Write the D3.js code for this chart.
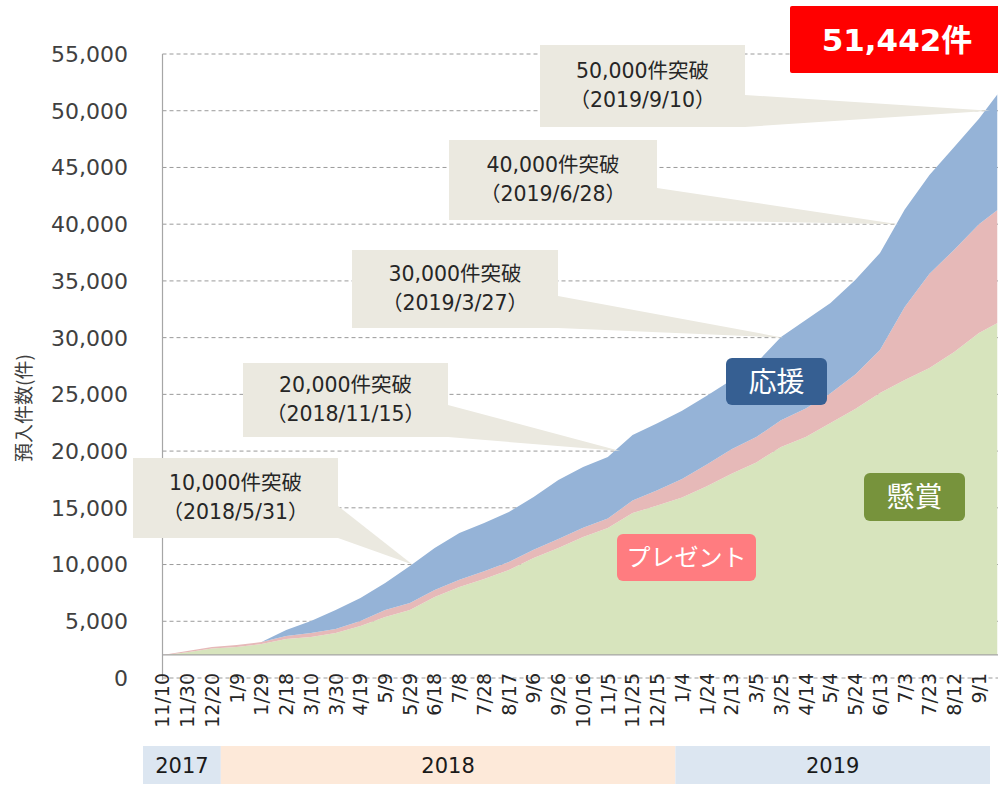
<!DOCTYPE html>
<html>
<head>
<meta charset="utf-8">
<script src="https://cdn.jsdelivr.net/npm/d3@7"></script>
<style>
  body { margin: 0; background: #fff; }
  svg { display: block; font-family: "DejaVu Sans", "Noto Sans CJK JP", sans-serif; }
</style>
</head>
<body>
<svg id="grafico" width="998" height="785"></svg>
<script>
// dados (acumulado por tipo)
const datas = [
  "2017-11-10","2017-11-30","2017-12-20","2018-01-09","2018-01-29","2018-02-18",
  "2018-03-10","2018-03-30","2018-04-19","2018-05-09","2018-05-29","2018-06-18",
  "2018-07-08","2018-07-28","2018-08-17","2018-09-06","2018-09-26","2018-10-16",
  "2018-11-05","2018-11-25","2018-12-15","2019-01-04","2019-01-24","2019-02-13",
  "2019-03-05","2019-03-25","2019-04-14","2019-05-04","2019-05-24","2019-06-13",
  "2019-07-03","2019-07-23","2019-08-12","2019-09-01","2019-09-16"
];
const kensho  = [2000,2280,2600,2740,2990,3440,3610,3960,4580,5380,5990,7140,
                 8020,8730,9520,10580,11460,12430,13220,14540,15200,15900,16900,18000,
                 19000,20360,21240,22480,23700,25120,26270,27320,28730,30400,31290];
const present = [30,100,130,160,180,260,360,360,440,610,620,620,
                 640,670,710,720,790,820,840,1100,1350,1650,1920,2170,
                 2240,2350,2510,2620,3050,3790,6430,8310,9020,9600,9960];
const ouen    = [0,0,0,0,0,530,1050,1670,2030,2380,3260,3700,
                 4120,4260,4400,4650,5200,5350,5420,5780,5900,6000,6050,6100,
                 6520,7350,7800,7950,8330,8550,8600,8700,9050,9300,10192];

const tickDatas = [
  "2017-11-10","2017-11-30","2017-12-20","2018-01-09","2018-01-29","2018-02-18",
  "2018-03-10","2018-03-30","2018-04-19","2018-05-09","2018-05-29","2018-06-18",
  "2018-07-08","2018-07-28","2018-08-17","2018-09-06","2018-09-26","2018-10-16",
  "2018-11-05","2018-11-25","2018-12-15","2019-01-04","2019-01-24","2019-02-13",
  "2019-03-05","2019-03-25","2019-04-14","2019-05-04","2019-05-24","2019-06-13",
  "2019-07-03","2019-07-23","2019-08-12","2019-09-01"
];
const yTicks = [0,5000,10000,15000,20000,25000,30000,35000,40000,45000,50000,55000];
const anos = ["2017","2018","2019"];

const marcoValores = [10000, 20000, 30000, 40000, 50000];
const marcoDatas   = ["2018-05-31","2018-11-15","2019-03-27","2019-06-28","2019-09-10"];
const marcoTextos  = ["10,000件突破","20,000件突破","30,000件突破","40,000件突破","50,000件突破"];
const marcoSub     = ["（2018/5/31）","（2018/11/15）","（2019/3/27）","（2019/6/28）","（2019/9/10）"];
const TOTAL = "51,442件";

const parse = d3.timeParse("%Y-%m-%d");
const fmtTick = d3.timeFormat("%-m/%-d");

const dados = datas.map((d, i) => ({
  data: parse(d), kensho: kensho[i], present: present[i], ouen: ouen[i]
}));

const $svg = d3.select("#grafico");

const X0 = 162.5, X1 = 997.5;
const scale_X = d3.scaleTime()
  .domain([parse(datas[0]), parse(datas[datas.length - 1])])
  .range([X0, X1]);
const scale_Y = d3.scaleLinear().domain([0, 55000]).range([678, 54]);

// grade horizontal tracejada
$svg.append("g").selectAll("line")
  .data(yTicks)
  .join("line")
  .attr("x1", X0).attr("x2", 998)
  .attr("y1", d => scale_Y(d)).attr("y2", d => scale_Y(d))
  .attr("stroke", "#9a9a9a")
  .attr("stroke-width", 1)
  .attr("stroke-dasharray", "4,3");

// rótulos eixo y
$svg.append("g").selectAll("text")
  .data(yTicks)
  .join("text")
  .attr("x", 128)
  .attr("y", d => scale_Y(d))
  .attr("dy", "0.36em")
  .attr("text-anchor", "end")
  .attr("font-size", 22)
  .attr("fill", "#404040")
  .text(d => d3.format(",")(d));

$svg.append("text")
  .attr("transform", "translate(24,408) rotate(-90)")
  .attr("text-anchor", "middle")
  .attr("dy", "0.35em")
  .attr("font-size", 19)
  .attr("font-family", "Noto Sans CJK JP")
  .attr("fill", "#404040")
  .text("預入件数(件)");

// áreas empilhadas
const chaves = ["kensho", "present", "ouen"];
const cores = { kensho: "#d7e4bd", present: "#e6b9b8", ouen: "#95b3d7" };
const pilha = d3.stack().keys(chaves)(dados);

const base = kensho[0] + present[0] + ouen[0];
$svg.append("clipPath").attr("id", "corte")
  .append("rect")
  .attr("x", X0).attr("y", 0)
  .attr("width", X1 - X0).attr("height", scale_Y(base));

const area = d3.area()
  .x(d => scale_X(d.data.data))
  .y0(d => scale_Y(d[0]))
  .y1(d => scale_Y(d[1]));

$svg.append("g").attr("clip-path", "url(#corte)")
  .selectAll("path")
  .data(pilha)
  .join("path")
  .attr("d", area)
  .attr("fill", d => cores[d.key]);

// linha base e eixo vertical
$svg.append("line")
  .attr("x1", X0).attr("x2", 998)
  .attr("y1", scale_Y(base)).attr("y2", scale_Y(base))
  .attr("stroke", "#a6a6a6").attr("stroke-width", 1.2);
$svg.append("line")
  .attr("x1", X0).attr("x2", X0)
  .attr("y1", scale_Y(55000)).attr("y2", 680)
  .attr("stroke", "#a6a6a6").attr("stroke-width", 1.2);

// rótulos eixo x
$svg.append("g").selectAll("text")
  .data(tickDatas.map(parse))
  .join("text")
  .attr("transform", d => `translate(${scale_X(d)},673) rotate(-90)`)
  .attr("text-anchor", "end")
  .attr("dy", "0.36em")
  .attr("font-size", 19)
  .attr("fill", "#262626")
  .text(d => fmtTick(d));

// faixa dos anos
const limites = [143, scale_X(parse("2018-01-01")) - 6, scale_X(parse("2019-01-01")) - 3, 990];
const coresAno = ["#dce6f1", "#fde9d9", "#dce6f1"];
anos.forEach((a, i) => {
  $svg.append("rect")
    .attr("x", limites[i]).attr("y", 746)
    .attr("width", limites[i + 1] - limites[i]).attr("height", 38)
    .attr("fill", coresAno[i]);
  $svg.append("text")
    .attr("x", (limites[i] + limites[i + 1]) / 2).attr("y", 765)
    .attr("dy", "0.36em")
    .attr("text-anchor", "middle")
    .attr("font-size", 21)
    .attr("fill", "#1a1a1a")
    .text(a);
});

// balões dos marcos
const caixas = [
  { x: 133, y: 458, w: 205, h: 80 },
  { x: 243, y: 363, w: 205, h: 74 },
  { x: 352, y: 250, w: 206, h: 78 },
  { x: 449, y: 140, w: 208, h: 80 },
  { x: 540, y: 45,  w: 205, h: 82 }
];
const BEGE = "#ebe9e0";
caixas.forEach((c, i) => {
  const tx = scale_X(parse(marcoDatas[i]));
  const ty = scale_Y(marcoValores[i]);
  const g = $svg.append("g");
  g.append("path")
    .attr("d", d3.line()([[c.x + c.w, c.y + c.h - 32], [tx, ty], [c.x + c.w, c.y + c.h]]) + "Z")
    .attr("fill", BEGE);
  g.append("rect")
    .attr("x", c.x).attr("y", c.y).attr("width", c.w).attr("height", c.h)
    .attr("fill", BEGE);
  const cx = c.x + c.w / 2, cy = c.y + c.h / 2;
  g.append("text")
    .attr("x", cx).attr("y", cy - 15).attr("dy", "0.36em")
    .attr("text-anchor", "middle").attr("font-size", 20.5).attr("fill", "#262626")
    .text(marcoTextos[i]);
  g.append("text")
    .attr("x", cx).attr("y", cy + 14).attr("dy", "0.36em")
    .attr("text-anchor", "middle").attr("font-size", 20.5).attr("fill", "#262626")
    .text(marcoSub[i]);
});

// caixa do total
$svg.append("rect")
  .attr("x", 790).attr("y", 6).attr("width", 214).attr("height", 67)
  .attr("rx", 2).attr("fill", "#ff0000");
$svg.append("text")
  .attr("x", 897).attr("y", 40).attr("dy", "0.36em")
  .attr("text-anchor", "middle")
  .attr("font-size", 31).attr("font-weight", "bold")
  .attr("fill", "#fff")
  .text(TOTAL);

// etiquetas das séries
const etiquetas = [
  { t: "応援",       x: 726, y: 358, w: 101, h: 47, cor: "#365f92", fs: 28 },
  { t: "プレゼント", x: 617, y: 534, w: 139, h: 47, cor: "#ff7c80", fs: 24 },
  { t: "懸賞",       x: 864, y: 473, w: 101, h: 48, cor: "#77933c", fs: 28 }
];
etiquetas.forEach(e => {
  $svg.append("rect")
    .attr("x", e.x).attr("y", e.y).attr("width", e.w).attr("height", e.h)
    .attr("rx", 6).attr("fill", e.cor);
  $svg.append("text")
    .attr("x", e.x + e.w / 2).attr("y", e.y + e.h / 2).attr("dy", "0.36em")
    .attr("text-anchor", "middle")
    .attr("font-family", "Noto Sans CJK JP")
    .attr("font-size", e.fs).attr("fill", "#fff")
    .text(e.t);
});
</script>
</body>
</html>
